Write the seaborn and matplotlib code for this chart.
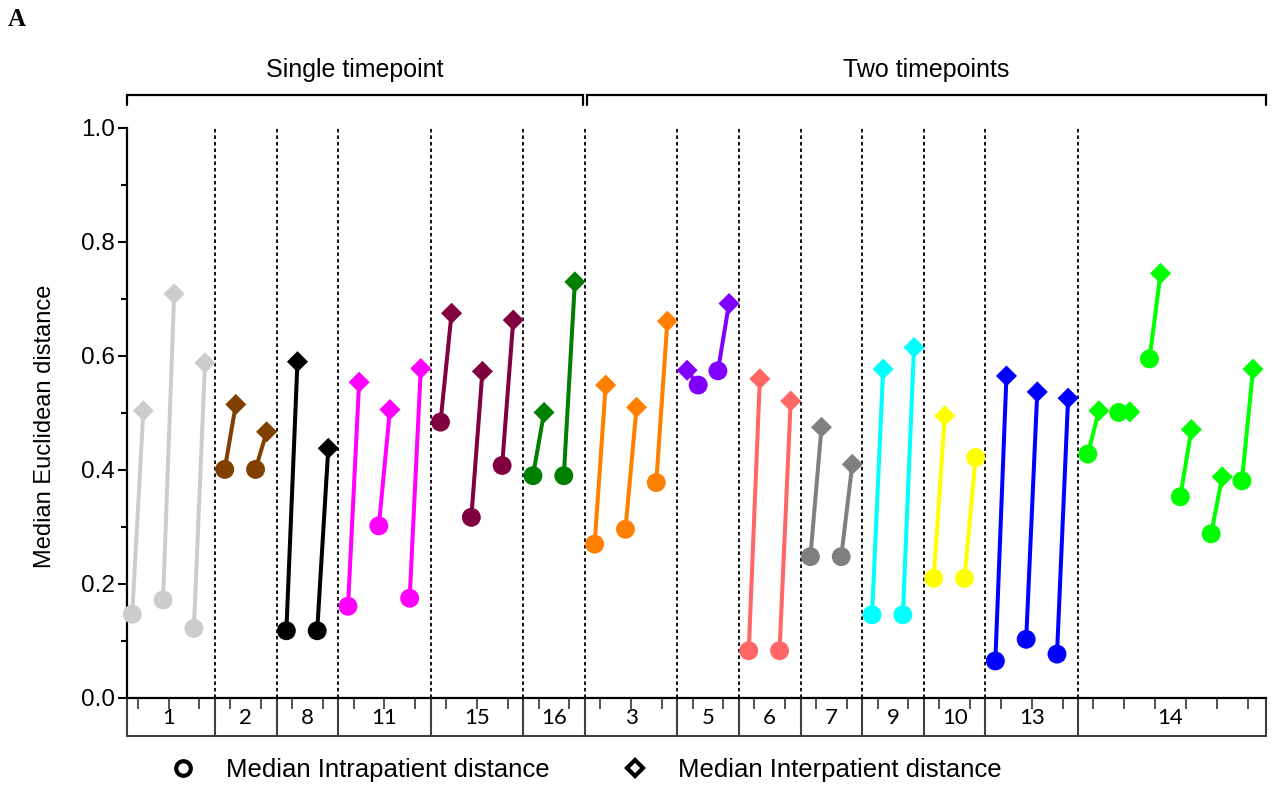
import numpy as np
import pandas as pd
import matplotlib
matplotlib.use('Agg')
import matplotlib.pyplot as plt
from matplotlib.lines import Line2D
from matplotlib.ticker import MultipleLocator, FormatStrFormatter
import seaborn as sns

# patients in plotting order, number of samples each and their colours
groups = ['1', '2', '8', '11', '15', '16', '3', '5', '6', '7', '9', '10', '13', '14']
group_sizes = [3, 2, 2, 3, 3, 2, 3, 2, 2, 2, 2, 2, 3, 6]
group_colors = ['#cccccc', '#804000', '#000000', '#ff00ff', '#800040', '#008000',
                '#ff8000', '#8000ff', '#ff6666', '#808080', '#00ffff', '#ffff00',
                '#0000ff', '#00ff00']
n_single = 6  # first 6 patients have a single timepoint

# median intrapatient distance (circles) per sample
intra = [0.147, 0.172, 0.122,
         0.401, 0.401,
         0.118, 0.118,
         0.161, 0.302, 0.175,
         0.484, 0.317, 0.408,
         0.390, 0.390,
         0.270, 0.296, 0.378,
         0.549, 0.574,
         0.083, 0.083,
         0.248, 0.248,
         0.146, 0.146,
         0.210, 0.210,
         0.065, 0.103, 0.077,
         0.428, 0.501, 0.595, 0.353, 0.288, 0.381]

# median interpatient distance (diamonds) per sample
inter = [0.504, 0.709, 0.588,
         0.515, 0.467,
         0.590, 0.438,
         0.554, 0.506, 0.578,
         0.675, 0.573, 0.663,
         0.501, 0.730,
         0.549, 0.510, 0.661,
         0.575, 0.692,
         0.560, 0.521,
         0.475, 0.410,
         0.577, 0.615,
         0.495, 0.422,
         0.565, 0.537, 0.526,
         0.504, 0.502, 0.745, 0.471, 0.388, 0.577]

swapped = [18]      # sample drawn with diamond on the left
round_inter = [27]  # sample whose interpatient point is drawn round

palette = dict(zip(groups, group_colors))
n = len(intra)
idx = np.arange(n)
sample_group = np.repeat(groups, group_sizes)
off = np.where(np.isin(idx, swapped), -1, 1) * 0.18

long = pd.concat([
    pd.DataFrame({'sample': idx, 'group': sample_group, 'x': idx - off,
                  'value': intra, 'kind': 'intra'}),
    pd.DataFrame({'sample': idx, 'group': sample_group, 'x': idx + off,
                  'value': inter, 'kind': 'inter'}),
], ignore_index=True)
long['shape'] = np.where((long['kind'] == 'inter') & ~long['sample'].isin(round_inter), 'D', 'o')

sns.set_style('ticks')
plt.rcParams['font.family'] = ['Liberation Sans', 'DejaVu Sans']
for k in ['text.color', 'axes.labelcolor', 'xtick.color', 'ytick.color', 'axes.edgecolor']:
    plt.rcParams[k] = 'black'

fig = plt.figure(figsize=(12.77, 7.91), dpi=100)
ax = fig.add_axes([127 / 1277, 93 / 791, 1139 / 1277, 570 / 791])
x0, x1 = -0.35, 36.6

sns.lineplot(data=long, x='x', y='value', hue='group', units='sample', estimator=None,
             palette=palette, sort=False, lw=2.9, legend=False, ax=ax, zorder=2)
sns.scatterplot(data=long[long['shape'] == 'D'], x='x', y='value', hue='group',
                palette=palette, marker='D', s=115, linewidth=0, legend=False,
                ax=ax, zorder=3, clip_on=False)
sns.scatterplot(data=long[long['shape'] == 'o'], x='x', y='value', hue='group',
                palette=palette, marker='o', s=185, linewidth=0, legend=False,
                ax=ax, zorder=4, clip_on=False)

# group separators
bounds = np.cumsum(group_sizes)[:-1] - 0.5
ax.vlines(bounds, 0, 1, colors='black', linestyles=(0, (2, 1.6)), lw=1.3, zorder=1)

ax.set_xlim(x0, x1)
ax.set_ylim(0, 1.0)
ax.yaxis.set_major_locator(MultipleLocator(0.2))
ax.yaxis.set_minor_locator(MultipleLocator(0.1))
ax.yaxis.set_major_formatter(FormatStrFormatter('%.1f'))
ax.tick_params(axis='y', which='major', length=6.5, width=1.5, labelsize=17.5, pad=2)
ax.tick_params(axis='y', which='minor', length=4, width=1.5)
ax.set_xticks(idx)
ax.set_xticklabels([])
ax.tick_params(axis='x', length=8, width=1.3, color='#444444')
ax.set_xlabel('')
ax.set_ylabel('Median Euclidean distance', fontsize=17)
ax.yaxis.set_label_coords(-0.062, 0.477)
sns.despine(ax=ax)
for s in ['left', 'bottom']:
    ax.spines[s].set_linewidth(1.6)

# patient label box under the axis
tr = ax.get_xaxis_transform()
box_y = -0.067
for b in [x0] + list(bounds) + [x1]:
    ax.plot([b, b], [0, box_y], transform=tr, clip_on=False, color='#404040', lw=1.5)
ax.plot([x0, x1], [box_y, box_y], transform=tr, clip_on=False, color='#404040', lw=1.5)
starts = np.cumsum([0] + group_sizes[:-1])
for g, st, sz in zip(groups, starts, group_sizes):
    ax.text(st + (sz - 1) / 2, -0.035, g, transform=tr, ha='center', va='center',
            fontsize=16, family=['Lato', 'DejaVu Sans'])

# timepoint brackets
split = bounds[n_single - 1]
for a, b, label in [(x0, split - 0.06, 'Single timepoint'),
                    (split + 0.06, x1, 'Two timepoints')]:
    ax.plot([a, a, b, b], [1.040, 1.058, 1.058, 1.040], transform=tr, clip_on=False,
            color='black', lw=1.6, solid_joinstyle='miter')
    ax.text((a + b) / 2, 1.102, label, transform=tr, ha='center', va='center', fontsize=18)

fig.text(0.006, 1 - 20 / 791, 'A', fontsize=18, fontweight='bold', va='center',
         family=['Liberation Serif', 'DejaVu Serif'])

handles = [Line2D([], [], marker='o', ls='', mfc='white', mec='black', mew=3, ms=10.5),
           Line2D([], [], marker='D', ls='', mfc='white', mec='black', mew=3, ms=8.5)]
fig.legend(handles, ['Median Intrapatient distance', 'Median Interpatient distance'],
           loc='center left', bbox_to_anchor=(0.133, 0.0265), ncol=2, frameon=False,
           fontsize=18.5, handlelength=1.0, handletextpad=1.2, columnspacing=2.8,
           borderpad=0, borderaxespad=0)

fig.savefig('out.png', dpi=100)
